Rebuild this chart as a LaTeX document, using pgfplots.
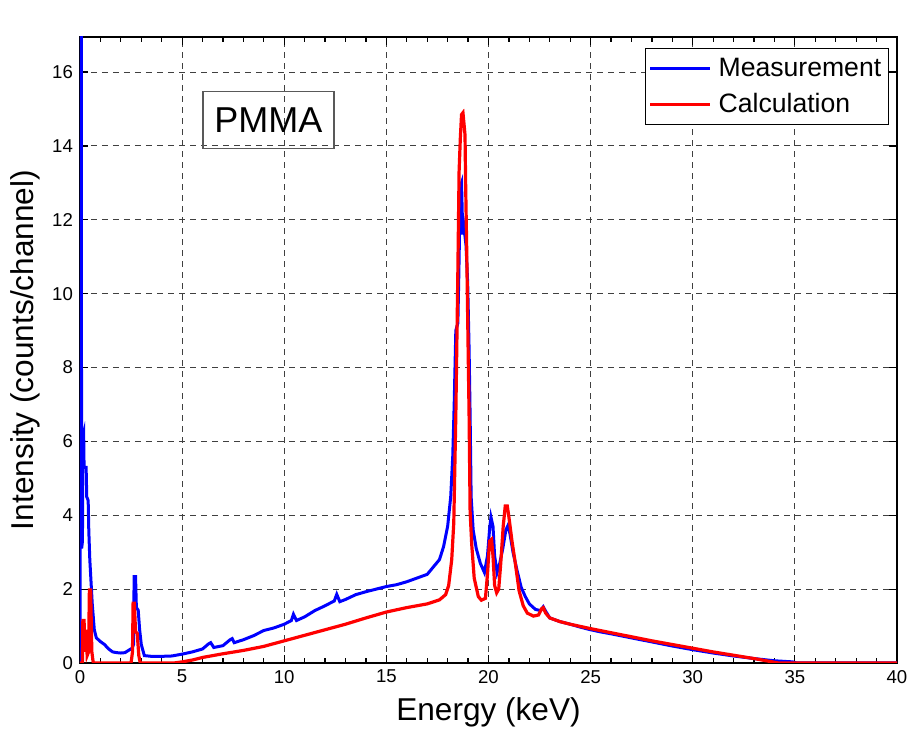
\documentclass[border=0pt]{standalone}
\usepackage{fontspec}
\setmainfont{Liberation Sans}
\usepackage{pgfplots}
\pgfplotsset{compat=1.18}

\begin{document}
\begin{tikzpicture}
\begin{axis}[
    at={(0,0)}, anchor=south west,
    scale only axis,
    width=408.5pt, height=313pt,
    xmin=0, xmax=40,
    ymin=0, ymax=16.95,
    xtick={0,5,...,40},
    ytick={0,2,...,16},
    minor x tick num=4,
    tick align=inside,
    major tick length=4pt,
    minor tick length=2.5pt,
    axis line style={line width=0.7pt},
    every tick/.style={black, line width=0.6pt},
    grid=major,
    grid style={black!75, line width=0.45pt, dash pattern=on 3pt off 2.5pt},
    /pgf/number format/assume math mode=true,
    tick label style={font=\fontsize{9.3}{11}\selectfont},
    xlabel={Energy (keV)},
    ylabel={Intensity (counts/channel)},
    label style={font=\fontsize{15.8}{18}\selectfont},
    xlabel style={at={(axis description cs:0.5,0)}, anchor=center, yshift=-24.5pt},
    ylabel style={at={(axis description cs:-0.0673,0.5)}, anchor=center},
    legend style={at={(rel axis cs:0.990,0.982)}, anchor=north east,
                  font=\fontsize{13.3}{16}\selectfont, draw=black, line width=0.6pt,
                  inner xsep=1.5pt, inner ysep=2.5pt, row sep=3pt},
    legend cell align=left,
    legend image code/.code={
        \draw[#1, line width=1.5pt] (3.5pt,0pt) -- (33.5pt,0pt);
        \path (35pt,0pt);},
]
% Measurement (units of 10^4 counts/channel)
\addplot[color=blue, line width=1.5pt] coordinates {
(0,0) (0.02,18) (0.06,18) (0.08,3.1) (0.12,3.3) (0.14,6.1) (0.18,6.2) (0.2,5.3)
(0.3,5.3) (0.33,4.5) (0.4,4.4) (0.43,3.6) (0.48,2.8) (0.55,2.1) (0.6,1.6)
(0.7,0.9) (0.8,0.68) (1.0,0.58) (1.2,0.50) (1.4,0.38) (1.6,0.30) (1.8,0.28)
(2.0,0.27) (2.2,0.28) (2.4,0.35) (2.55,0.40) (2.62,0.5) (2.65,2.34) (2.72,2.34)
(2.76,1.5) (2.85,1.43) (2.92,0.9) (3.0,0.5) (3.15,0.2) (3.5,0.18) (4.0,0.18)
(4.5,0.19) (5.0,0.24) (5.5,0.30) (6.0,0.38) (6.3,0.52) (6.4,0.55) (6.55,0.42)
(7.0,0.47) (7.35,0.63) (7.45,0.66) (7.55,0.55) (8.0,0.63) (8.5,0.74) (9.0,0.88)
(9.5,0.95) (10.0,1.05) (10.35,1.15) (10.45,1.32) (10.6,1.15) (11.0,1.25)
(11.5,1.42) (12.0,1.55) (12.45,1.68) (12.57,1.86) (12.72,1.66) (13.0,1.72)
(13.5,1.85) (14.0,1.93) (14.5,2.0) (15.0,2.07) (15.5,2.12) (16.0,2.2) (16.5,2.3)
(17.0,2.4) (17.3,2.6) (17.6,2.8) (17.8,3.15) (18.0,3.7) (18.15,4.5) (18.25,5.6)
(18.32,7.0) (18.4,9.0) (18.5,9.2) (18.55,10.6) (18.62,12.9) (18.68,13.0)
(18.74,11.6) (18.8,11.8) (18.9,11.3) (18.98,10.3) (19.05,8.5) (19.1,6.7)
(19.15,4.5) (19.25,3.6) (19.4,3.1) (19.6,2.7) (19.8,2.45) (19.95,2.9) (20.05,3.6)
(20.12,3.95) (20.22,3.7) (20.3,2.9) (20.42,2.45) (20.55,2.7) (20.7,3.1)
(20.85,3.6) (20.95,3.72) (21.05,3.5) (21.2,3.0) (21.4,2.5) (21.6,2.05) (21.8,1.8)
(22.0,1.6) (22.3,1.45) (22.55,1.42) (22.68,1.52) (22.8,1.4) (23.0,1.22)
(23.5,1.12) (24.0,1.05) (24.5,0.97) (25.0,0.90) (25.5,0.84) (26,0.79) (27,0.68)
(28,0.57) (29,0.46) (30,0.36) (31,0.27) (32,0.19) (33,0.12) (34,0.06)
(34.9,0.03) (35.1,0) (40,0)};
% Calculation
\addplot[color=red, line width=1.6pt] coordinates {
(0,0) (0.12,0) (0.14,1.15) (0.2,1.15) (0.24,0.3) (0.3,0.9) (0.35,0.2) (0.42,0.3)
(0.46,1.98) (0.52,1.98) (0.58,0.3) (0.65,0) (2.5,0) (2.57,0.3) (2.6,1.62)
(2.66,1.62) (2.72,0.85) (2.8,0.8) (2.88,0.2) (2.95,0) (4.6,0) (5.0,0.03)
(5.5,0.08) (6.0,0.15) (7.0,0.25) (8.0,0.34) (9.0,0.45) (10,0.6) (11,0.75)
(12,0.9) (13,1.05) (14,1.22) (15,1.38) (16,1.5) (17,1.6) (17.6,1.71) (17.9,1.85)
(18.05,2.1) (18.2,2.8) (18.3,3.8) (18.4,6.7) (18.5,10.6) (18.56,13.3)
(18.62,14.2) (18.68,14.85) (18.75,14.9) (18.8,14.6) (18.85,14.3) (18.88,13.0)
(18.93,11.3) (19.0,8.6) (19.05,6.7) (19.1,4.1) (19.18,3.2) (19.3,2.3) (19.5,1.8)
(19.65,1.7) (19.85,1.75) (19.95,2.4) (20.05,3.3) (20.15,3.35) (20.22,2.9)
(20.3,2.1) (20.4,1.9) (20.5,2.0) (20.6,2.7) (20.72,3.7) (20.82,4.25) (20.92,4.25)
(21.0,3.95) (21.15,3.3) (21.3,2.75) (21.5,1.95) (21.7,1.55) (21.9,1.35)
(22.2,1.27) (22.45,1.3) (22.6,1.47) (22.68,1.5) (22.8,1.35) (23.0,1.22)
(23.5,1.12) (24,1.05) (25,0.93) (26,0.82) (27,0.71) (28,0.6) (29,0.5) (30,0.40)
(31,0.30) (32,0.21) (33,0.12) (34,0.02) (34.2,0) (40,0)};
\legend{Measurement, Calculation}
\node[draw=black!65, line width=0.6pt, minimum width=65.5pt, minimum height=28.5pt,
      inner sep=0pt, font=\fontsize{18}{21}\selectfont]
      at (rel axis cs:0.2307,0.868) {PMMA};
\node[anchor=base west, inner sep=0pt, font=\fontsize{9}{11}\selectfont]
      at (rel axis cs:0,1) [yshift=5.5pt] {x 10\textsuperscript{4}};
\end{axis}
\pgfresetboundingbox
\path (-40pt,-34pt) rectangle (415pt,331.5pt);
\end{tikzpicture}
\end{document}
